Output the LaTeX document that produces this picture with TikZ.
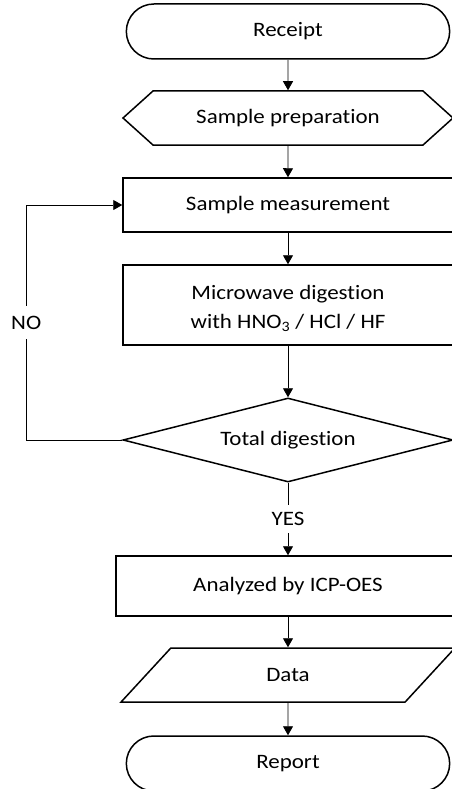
\documentclass[tikz,border=0pt]{standalone}
\usepackage{fontspec}
\setmainfont{Carlito}[FakeStretch=1.12,Ligatures=NoCommon]
\usetikzlibrary{shapes.geometric,shapes.misc,shapes.symbols,arrows.meta}

\begin{document}
\begin{tikzpicture}[x=1pt,y=-1pt,>={Triangle[length=9pt,width=10pt]},
  font=\fontsize{20.5}{29}\selectfont,
  term/.style={draw,line width=1.5pt,rounded rectangle,minimum width=330pt,minimum height=55pt},
  prepbox/.style={draw,line width=1.5pt,signal,signal to=west and east,signal pointer angle=84,minimum width=330pt,minimum height=54pt},
  proc/.style={draw,line width=1.5pt,rectangle,minimum width=330pt},
  decide/.style={draw,line width=1.5pt,diamond,aspect=3.9,inner sep=0pt,minimum width=330pt,minimum height=84pt},
  io/.style={draw,line width=1.5pt,trapezium,trapezium stretches=true,trapezium left angle=62,trapezium right angle=118,minimum width=335pt,minimum height=54pt},
  flow/.style={->,line width=0.8pt},
  lbl/.style={fill=white,inner sep=7pt}]
\useasboundingbox (0,0) rectangle (451,789);

\node[term] (receipt) at (288,31.5) {Receipt};
\node[prepbox] (prep) at (288,118) {Sample preparation};
\node[proc,minimum height=54pt] (meas) at (288,205) {Sample measurement};
\node[proc,minimum height=80pt,align=center] (micro) at (288,305) {\strut Microwave digestion\\with HNO\textsubscript{3} / HCl / HF};
\node[decide] (tdig) at (288,440) {Total digestion};
\node[proc,minimum width=344pt,minimum height=60pt] (anal) at (288,586) {Analyzed by ICP-OES};
\node[io] (data) at (288,675) {Data};
\node[term] (report) at (288,763.5) {Report};

\draw[flow] (receipt) -- (prep);
\draw[flow] (prep) -- (meas);
\draw[flow] (meas) -- (micro);
\draw[flow] (micro) -- (tdig);
\draw[flow] (tdig) -- node[lbl] {YES} (anal);
\draw[flow] (anal) -- (data);
\draw[flow] (data) -- (report);
\draw[flow] (tdig.west) -- ++(-96,0) |- node[lbl,pos=0.25,inner ysep=10pt] {NO} (meas.west);
\end{tikzpicture}
\end{document}
